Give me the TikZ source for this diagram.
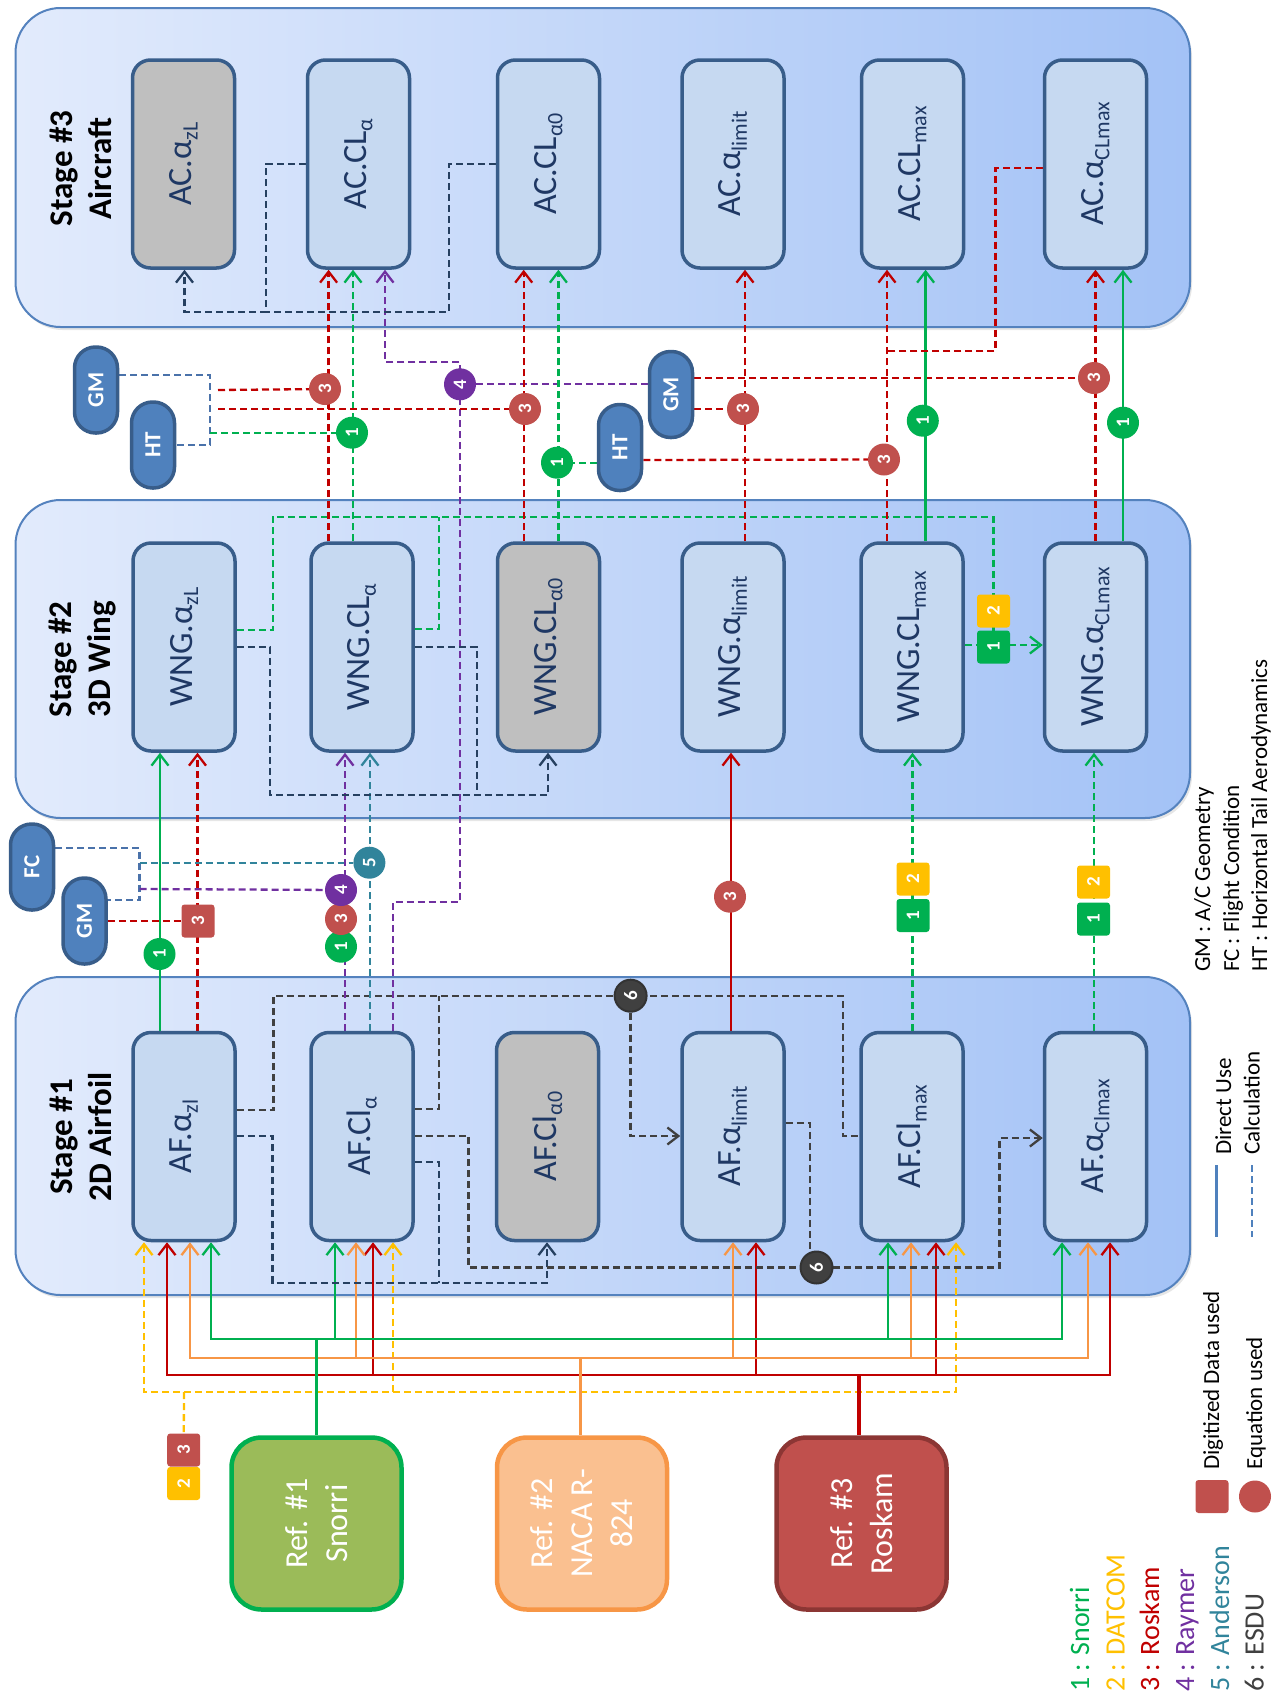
\documentclass[tikz,border=0pt]{standalone}
\usepackage{fontspec}
\setmainfont{Carlito}
\usetikzlibrary{arrows.meta,shadows}
\pgfdeclarelayer{back}
\pgfdeclarelayer{lines}
\pgfsetlayers{back,lines,main}

\definecolor{panelL}{RGB}{226,235,252}
\definecolor{panelR}{RGB}{163,194,246}
\definecolor{panelLine}{RGB}{84,130,190}
\definecolor{boxFill}{RGB}{198,217,241}
\definecolor{boxGrey}{RGB}{191,191,191}
\definecolor{boxLine}{RGB}{56,93,138}
\definecolor{boxText}{RGB}{31,56,100}
\definecolor{pillFill}{RGB}{79,129,189}
\definecolor{pillLine}{RGB}{56,93,138}
\definecolor{cG}{RGB}{0,176,80}
\definecolor{cY}{RGB}{255,192,0}
\definecolor{cR}{RGB}{192,0,0}
\definecolor{cRb}{RGB}{192,80,77}
\definecolor{cO}{RGB}{247,150,70}
\definecolor{cP}{RGB}{112,48,160}
\definecolor{cT}{RGB}{49,132,155}
\definecolor{cN}{RGB}{38,64,96}
\definecolor{cK}{RGB}{64,64,64}
\definecolor{cB}{RGB}{74,114,170}
\definecolor{snFill}{RGB}{155,187,89}
\definecolor{naFill}{RGB}{250,192,144}
\definecolor{roLine}{RGB}{140,54,52}

% lowered, smaller index text inside the boxes
\newcommand{\lowt}[1]{\raisebox{-6pt}{\fontsize{22}{22}\selectfont #1}}

\begin{document}
\begin{tikzpicture}[x=1pt,y=-1pt,
  >={Straight Barb[length=11pt,width=17pt]},
  panel/.style={draw=panelLine, line width=2pt, rounded corners=45pt,
    left color=panelL, right color=panelR,
    drop shadow={opacity=0.2, shadow xshift=2pt, shadow yshift=-3pt}},
  stagelbl/.style={rotate=90, align=center, inner sep=0pt,
    font=\bfseries\fontsize{33}{39}\selectfont},
  box/.style={rectangle, rounded corners=18pt, draw=boxLine, line width=3.5pt,
    fill=boxFill, rotate=90, minimum width=208pt, minimum height=102pt,
    inner sep=0pt, text=boxText, font=\fontsize{34}{40}\selectfont},
  gbox/.style={box, fill=boxGrey},
  refbox/.style={rectangle, rounded corners=30pt, line width=4.5pt, rotate=90,
    minimum width=172pt, minimum height=170pt, align=center, text=white,
    inner sep=0pt, font=\fontsize{32}{40}\selectfont},
  pill/.style={rectangle, rounded corners=21pt, draw=pillLine, line width=3.5pt,
    fill=pillFill, rotate=90, minimum width=86pt, minimum height=43pt,
    inner sep=0pt, text=white, font=\bfseries\fontsize{23}{23}\selectfont},
  badge/.style={inner sep=0pt, rotate=90, text=white,
    font=\bfseries\fontsize{19}{19}\selectfont},
  cbadge/.style={badge, circle, minimum size=32pt, fill=#1},
  sbadge/.style={badge, rectangle, rounded corners=3pt, minimum size=33pt, fill=#1},
  ln/.style={line width=2.3pt, draw=#1},
  dl/.style={line width=2.3pt, draw=#1, dash pattern=on 7pt off 4pt},
  lgd/.style={rotate=90, anchor=base west, inner sep=0pt,
    font=\fontsize{23}{23}\selectfont},
  mlg/.style={rotate=90, anchor=base west, inner sep=0pt,
    font=\fontsize{28}{28}\selectfont, text=#1},
]
\useasboundingbox (0,0) rectangle (1275,1700);

% ---------------- stage panels ----------------
\begin{pgfonlayer}{back}
\path[panel] (15.5,8) rectangle (1190,327);
\path[panel] (15.5,500) rectangle (1190,818);
\path[panel] (15.5,977) rectangle (1190,1295);
\end{pgfonlayer}

\node[stagelbl] (s3) at (80.5,168.5) {Stage \#3\\Aircraft};
\node[stagelbl] (s2) at (82.5,659.5) {Stage \#2\\3D Wing};
\node[stagelbl] (s1) at (80.5,1137) {Stage \#1\\2D Airfoil};

% ---------------- stage 3 : aircraft ----------------
\node[gbox] (ac1) at (183.5,164) {AC.α\lowt{zL}};
\node[box]  (ac2) at (358.5,164) {AC.CL\lowt{α}};
\node[box]  (ac3) at (548.5,164) {AC.CL\lowt{α0}};
\node[box]  (ac4) at (733,164)   {AC.α\lowt{limit}};
\node[box]  (ac5) at (912.5,164) {AC.CL\lowt{max}};
\node[box]  (ac6) at (1095.5,164){AC.α\lowt{CLmax}};

% ---------------- stage 2 : wing ----------------
\node[box]  (wn1) at (184,647)   {WNG.α\lowt{zL}};
\node[box]  (wn2) at (362,647)   {WNG.CL\lowt{α}};
\node[gbox] (wn3) at (548.5,647) {WNG.CL\lowt{α0}};
\node[box]  (wn4) at (733,647)   {WNG.α\lowt{limit}};
\node[box]  (wn5) at (912,647)   {WNG.CL\lowt{max}};
\node[box]  (wn6) at (1095.5,647){WNG.α\lowt{CLmax}};

% ---------------- stage 1 : airfoil ----------------
\node[box]  (af1) at (184,1136.5)   {AF.α\lowt{zl}};
\node[box]  (af2) at (362,1136.5)   {AF.Cl\lowt{α}};
\node[gbox] (af3) at (547.5,1136.5) {AF.Cl\lowt{α0}};
\node[box]  (af4) at (733,1136.5)   {AF.α\lowt{limit}};
\node[box]  (af5) at (912,1136.5)   {AF.Cl\lowt{max}};
\node[box]  (af6) at (1095.5,1136.5){AF.α\lowt{Clmax}};

% ---------------- references ----------------
\node[refbox, draw=cG, fill=snFill]  (snorri) at (316.5,1523.5) {Ref. \#1\\Snorri};
\node[refbox, draw=cO, fill=naFill]  (naca)   at (582,1523.5)   {Ref. \#2\\NACA R-\\824};
\node[refbox, draw=roLine, fill=cRb] (roskam) at (861.5,1523.5) {Ref. \#3\\Roskam};

% ---------------- input pills ----------------
\node[pill] (fc)  at (32,867)    {FC};
\node[pill] (gma) at (84.5,921)  {GM};
\node[pill] (gmb) at (96,390)    {GM};
\node[pill] (hta) at (153,445)   {HT};
\node[pill] (htb) at (620,447.5) {HT};
\node[pill] (gmc) at (671,394.5) {GM};

% ---------------- method badges ----------------
\node[cbadge=cG]  (c1a) at (159.5,954) {1};
\node[cbadge=cG]  (c1s) at (341,946.7) {1};
\node[cbadge=cRb] (c3s) at (341,919)   {3};
\node[cbadge=cP]  (c4a) at (341,890)   {4};
\node[cbadge=cT]  (c5)  at (369.4,862.7) {5};
\node[cbadge=cRb] (c3f) at (730,896.7) {3};
\node[cbadge=cK, draw=black!80, line width=2pt] (e6a) at (630.6,995.7) {6};
\node[cbadge=cK, draw=black!80, line width=2pt] (e6b) at (816.5,1267.5) {6};
\node[cbadge=cRb] (c3a) at (325,389)   {3};
\node[cbadge=cG]  (c1b) at (352,432.7) {1};
\node[cbadge=cP]  (c4b) at (460,384.3) {4};
\node[cbadge=cRb] (c3b) at (525,409)   {3};
\node[cbadge=cG]  (c1c) at (557,462.7) {1};
\node[cbadge=cRb] (c3d) at (743,409)   {3};
\node[cbadge=cRb] (c3c) at (884,459.5) {3};
\node[cbadge=cG]  (c1d) at (922.8,420.7) {1};
\node[cbadge=cRb] (c3e) at (1094,378)  {3};
\node[cbadge=cG]  (c1e) at (1123,422.7) {1};

\node[sbadge=cRb] (sq3a) at (198,921)     {3};
\node[sbadge=cY]  (sq2a) at (913,879)     {2};
\node[sbadge=cG]  (sq1a) at (913,915.5)   {1};
\node[sbadge=cY]  (sq2b) at (1093.5,882)  {2};
\node[sbadge=cG]  (sq1b) at (1093.5,919)  {1};
\node[sbadge=cY]  (sq2c) at (993.5,611)   {2};
\node[sbadge=cG]  (sq1c) at (993.5,647)   {1};
\node[sbadge=cRb] (rs3)  at (183.7,1450)  {3};
\node[sbadge=cY]  (rs2)  at (183.7,1483.5){2};

% ---------------- connectors ----------------
\begin{pgfonlayer}{lines}
% reference buses into the airfoil stage
\draw[dl=cY, <->] (af1.west -| 144,0) -- (144,1392) -- (956,1392) -- (af5.west -| 956,0);
\draw[dl=cY, ->] (393,1392) -- (af2.west -| 393,0);
\draw[dl=cY] (184,1392) -- (rs3);

\draw[ln=cR, <->] (af1.west -| 167,0) -- (167,1375) -- (1110,1375) -- (af6.west -| 1110,0);
\foreach \xx/\bx in {373/af2, 756/af4, 936/af5}
  \draw[ln=cR, ->] (\xx,1375) -- (\bx.west -| \xx,0);
\draw[ln=cR, line width=4.5pt] (roskam.east -| 859,0) -- (859,1375);

\draw[ln=cO, <->] (af1.west -| 190,0) -- (190,1358) -- (1088,1358) -- (af6.west -| 1088,0);
\foreach \xx/\bx in {356/af2, 733/af4, 911/af5}
  \draw[ln=cO, ->] (\xx,1358) -- (\bx.west -| \xx,0);
\draw[ln=cO, line width=3pt] (naca.east -| 580,0) -- (580,1358);

\draw[ln=cG, <->] (af1.west -| 211,0) -- (211,1339) -- (1062,1339) -- (af6.west -| 1062,0);
\foreach \xx/\bx in {335/af2, 888/af5}
  \draw[ln=cG, ->] (\xx,1339) -- (\bx.west -| \xx,0);
\draw[ln=cG, line width=3pt] (snorri.east) -- (snorri.east |- 0,1339);

% airfoil stage, internal
\draw[dl=cK] (af1.south |- 0,1110) -- (273.5,1110) -- (273.5,995.7) -- (843,995.7)
  -- (843,1136) -- (af5.north |- 0,1136);
\draw[dl=cK] (af2.south |- 0,1109) -- (439,1109) -- (439,995.7);
\draw[dl=cK, ->] (e6a) -- (630.6,1136) -- (af4.north |- 0,1136);
\draw[dl=cN, ->] (af1.south |- 0,1136) -- (272.6,1136) -- (272.6,1283) -- (547,1283)
  -- (af3.west -| 547,0);
\draw[dl=cN] (af2.south |- 0,1162) -- (439,1162) -- (439,1283);
\draw[dl=cK, ->] (af2.south |- 0,1136) -- (468.6,1136) -- (468.6,1267.5) -- (999.5,1267.5)
  -- (999.5,1138) -- (af6.north |- 0,1138);
\draw[dl=cK] (af4.south |- 0,1122.7) -- (809.7,1122.7) -- (809.7,1267.5);

% airfoil -> wing
\draw[ln=cG, ->] (af1.east -| 160,0) -- (wn1.west -| 160,0);
\draw[dl=cR, ->] (af1.east -| 197.5,0) -- (wn1.west -| 197.5,0);
\draw[dl=cR] (gma) -- (sq3a);
\draw[dl=cB] (fc.south |- 0,848) -- (139.6,848) -- (139.6,900) -- (gma.south |- 0,900);
\draw[dl=cT] (139.6,862.7) -- (c5);
\draw[dl=cT, ->] (af2.east -| 370,0) -- (wn2.west -| 370,0);
\draw[dl=cP] (139.6,889) -- (c4a);
\draw[dl=cP, ->] (af2.east -| 345,0) -- (wn2.west -| 345,0);
\draw[dl=cP, ->] (af2.east -| 392.7,0) -- (392.7,901.7) -- (460,901.7) -- (460,361.7)
  -- (385,361.7) -- (ac2.west -| 385,0);
\draw[dl=cP] (gmc.north |- 0,384.3) -- (c4b);
\draw[ln=cR, ->] (af4.east -| 731,0) -- (wn4.west -| 731,0);
\draw[dl=cG, ->] (af5.east -| 912.5,0) -- (wn5.west -| 912.5,0);
\draw[dl=cG, ->] (af6.east -| 1094,0) -- (wn6.west -| 1094,0);

% wing stage, internal
\draw[dl=cG] (wn1.south |- 0,630) -- (272.7,630) -- (272.7,516.7) -- (993.4,516.7) -- (993.4,645);
\draw[dl=cG] (wn2.south |- 0,629) -- (438.8,629) -- (438.8,516.7);
\draw[dl=cG, ->] (wn5.south |- 0,645) -- (wn6.north |- 0,645);
\draw[dl=cN, ->] (wn1.south |- 0,647) -- (270,647) -- (270,795) -- (548,795) -- (wn3.west -| 548,0);
\draw[dl=cN] (wn2.south |- 0,647) -- (476.7,647) -- (476.7,795);

% wing -> aircraft
\draw[dl=cR, ->] (wn2.east -| 328.6,0) -- (ac2.west -| 328.6,0);
\draw[dl=cG, ->] (wn2.east -| 353,0) -- (ac2.west -| 353,0);
\draw[dl=cB] (gmb.south |- 0,375) -- (210,375) -- (210,445) -- (hta.south |- 0,445);
\draw[dl=cR] (218,390) -- (c3a);
\draw[dl=cR] (218,409) -- (c3b);
\draw[dl=cG] (210,432.7) -- (c1b);
\draw[dl=cR, ->] (wn3.east -| 523.7,0) -- (ac3.west -| 523.7,0);
\draw[dl=cG, ->] (wn3.east -| 558.4,0) -- (ac3.west -| 558.4,0);
\draw[dl=cG] (htb.north |- 0,462.7) -- (c1c);
\draw[dl=cR] (htb.south |- 0,460) -- (c3c);
\draw[dl=cR, ->] (wn5.east -| 887,0) -- (ac5.west -| 887,0);
\draw[dl=cR] (gmc.south |- 0,409) -- (c3d);
\draw[dl=cR, ->] (wn4.east -| 745,0) -- (ac4.west -| 745,0);
\draw[dl=cR] (gmc.south |- 0,378) -- (c3e);
\draw[dl=cR, ->] (wn6.east -| 1095.5,0) -- (ac6.west -| 1095.5,0);
\draw[ln=cG, ->] (wn5.east -| 925.6,0) -- (ac5.west -| 925.6,0);
\draw[ln=cG, ->] (wn6.east -| 1123,0) -- (ac6.west -| 1123,0);
\draw[dl=cR] (ac6.north |- 0,168) -- (995.4,168) -- (995.4,350.7) -- (887,350.7);

% aircraft stage, internal
\draw[dl=cN, ->] (ac2.north |- 0,164) -- (266,164) -- (266,312) -- (184.5,312) -- (ac1.west -| 184.5,0);
\draw[dl=cN] (ac3.north |- 0,164) -- (449,164) -- (449,312) -- (266,312);
\end{pgfonlayer}

% ---------------- legends ----------------
\node[lgd] (lgm) at (1210,972)   {GM : A/C Geometry};
\node[lgd] (lfc) at (1239,972)   {FC : Flight Condition};
\node[lgd] (lht) at (1267,972)   {HT : Horizontal Tail Aerodynamics};

\coordinate (ds1) at (1216.6,1165);
\coordinate (ds2) at (1216.6,1237);
\coordinate (dc1) at (1252,1165);
\coordinate (dc2) at (1252,1237);
\draw[ln=pillFill] (ds1) -- (ds2);
\draw[dl=pillFill] (dc1) -- (dc2);
\node[lgd] (ldu) at (1231,1155)   {Direct Use};
\node[lgd] (lca) at (1259.5,1155) {Calculation};

\node[sbadge=cRb] (lsq) at (1212,1496.5) {};
\node[cbadge=cRb] (lci) at (1255,1496.5) {};
\node[lgd] (ldd) at (1219,1470) {Digitized Data used};
\node[lgd] (leq) at (1262,1470) {Equation used};

\node[mlg=cG] (m1) at (1089,1692)   {1 : Snorri};
\node[mlg=cY] (m2) at (1124.5,1692) {2 : DATCOM};
\node[mlg=cR] (m3) at (1159,1692)   {3 : Roskam};
\node[mlg=cP] (m4) at (1194,1692)   {4 : Raymer};
\node[mlg=cT] (m5) at (1229,1692)   {5 : Anderson};
\node[mlg=cK] (m6) at (1263.5,1692) {6 : ESDU};
\end{tikzpicture}
\end{document}
